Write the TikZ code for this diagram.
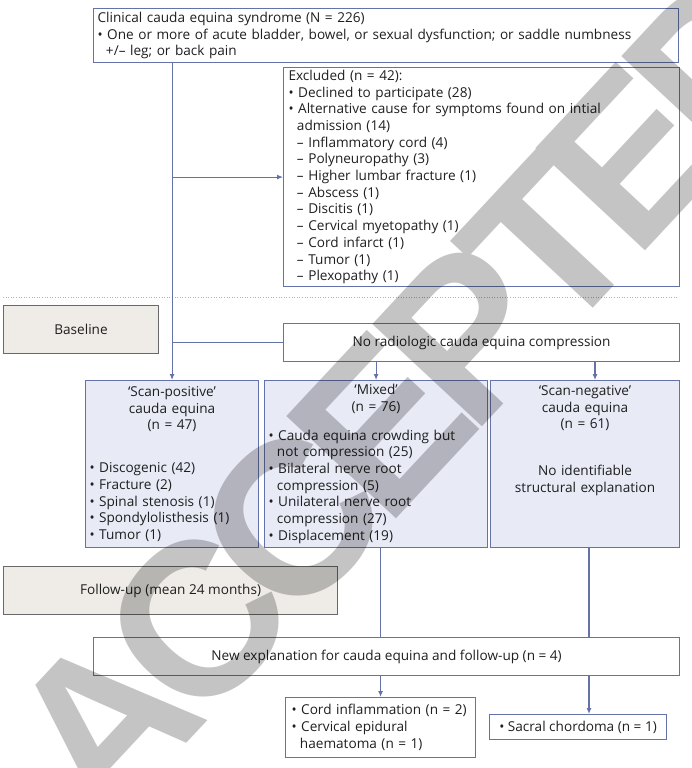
\documentclass[tikz,border=0pt]{standalone}
\usepackage{fontspec}
\setmainfont{Open Sans}
\newfontfamily\stampfont[LetterSpace=-9]{Liberation Sans}
\usetikzlibrary{arrows.meta, positioning}

\definecolor{boxline}{RGB}{100,114,170}
\definecolor{groupfill}{RGB}{232,234,246}
\definecolor{phasefill}{RGB}{239,236,232}
\definecolor{phaseline}{RGB}{105,105,105}
\newcommand{\hang}{\hspace*{0.62em}}

\begin{document}
\begin{tikzpicture}[
    x=1pt, y=-1pt,
    every node/.style={font=\fontsize{13.6}{16.7}\selectfont, text=black!88},
    base/.style={draw=boxline, line width=1.1pt, inner xsep=4pt, inner ysep=0pt, anchor=north west},
    textbox/.style={base, align=left},
    centerbox/.style={base, align=center},
    groupbox/.style={base, fill=groupfill, align=left},
    phase/.style={base, draw=phaseline, fill=phasefill, align=center},
    arrow/.style={-{Latex[length=6pt, width=5pt]}, line width=1.1pt, draw=boxline},
    link/.style={line width=1.1pt, draw=boxline},
    separator/.style={line width=1pt, draw=black!30, dash pattern=on 1pt off 1.6pt},
    stamp/.style={font=\stampfont\bfseries\fontsize{218}{218}\selectfont, text=black, rotate=47}
]
\useasboundingbox (0,0) rectangle (691,768);

\node[textbox, minimum width=585pt, minimum height=54pt, text width=577pt] (CES) at (93,8)
    {Clinical cauda equina syndrome (N = 226)\\
     • One or more of acute bladder, bowel, or sexual dysfunction; or saddle numbness\\
     \hang+/– leg; or back pain};
\node[textbox, minimum width=396pt, minimum height=219pt, text width=386pt, inner xsep=5pt] (Excl) at (283,67)
    {Excluded (n = 42):\\
     • Declined to participate (28)\\
     • Alternative cause for symptoms found on intial\\
     \hang admission (14)\\
     \hang – Inflammatory cord (4)\\
     \hang – Polyneuropathy (3)\\
     \hang – Higher lumbar fracture (1)\\
     \hang – Abscess (1)\\
     \hang – Discitis (1)\\
     \hang – Cervical myetopathy (1)\\
     \hang – Cord infarct (1)\\
     \hang – Tumor (1)\\
     \hang – Plexopathy (1)};

\coordinate (SepL) at (3,297);
\coordinate (SepR) at (678,297);
\draw[separator] (SepL) -- (SepR);

\node[phase, minimum width=155pt, minimum height=48pt] (Base) at (3,305) {Baseline};
\node[centerbox, minimum width=396pt, minimum height=38pt] (NoRad) at (283,323)
    {No radiologic cauda equina compression};

\node[groupbox, minimum width=173pt, minimum height=167pt, text width=165pt] (ScanPos) at (85,380)
    {{\centering ‘Scan-positive’\\ cauda equina\\ (n = 47)\par}\vspace{26pt}
     • Discogenic (42)\\
     • Fracture (2)\\
     • Spinal stenosis (1)\\
     • Spondylolisthesis (1)\\
     • Tumor (1)};
\node[groupbox, minimum width=223pt, minimum height=167pt, text width=215pt] (Mixed) at (264,380)
    {{\centering ‘Mixed’\\ (n = 76)\par}\vspace{12pt}
     • Cauda equina crowding but\\
     \hang not compression (25)\\
     • Bilateral nerve root\\
     \hang compression (5)\\
     • Unilateral nerve root\\
     \hang compression (27)\\
     • Displacement (19)};
\node[groupbox, align=center, minimum width=189pt, minimum height=167pt, text width=181pt] (ScanNeg) at (490,380)
    {‘Scan-negative’\\ cauda equina\\ (n = 61)\par\vspace{30pt}
     No identifiable\\ structural explanation\par\vspace*{47pt}};

\node[phase, minimum width=334pt, minimum height=48pt] (Follow) at (3,566) {Follow-up (mean 24 months)};
\node[centerbox, minimum width=586pt, minimum height=38pt] (NewExp) at (93,637)
    {New explanation for cauda equina and follow-up (n = 4)};

\node[textbox, minimum width=190pt, minimum height=60pt, text width=178pt, inner xsep=6pt] (Cord) at (285,697)
    {• Cord inflammation (n = 2)\\
     • Cervical epidural\\
     \hang haematoma (n = 1)};
\node[centerbox, minimum width=177pt, minimum height=25pt] (Sacral) at (489,714)
    {• Sacral chordoma (n = 1)};

\coordinate (NegIn) at (595,0);
\coordinate (NegOut) at (589,0);

\draw[arrow] (ScanPos.north |- CES.south) -- (ScanPos.north);
\draw[arrow] (Excl.west -| ScanPos.north) -- (Excl.west);
\draw[link] (NoRad.west -| ScanPos.north) -- (NoRad.west);
\draw[arrow] (NoRad.south -| Mixed.north) -- (Mixed.north);
\draw[arrow] (NoRad.south -| NegIn) -- (ScanNeg.north -| NegIn);
\draw[link] (Mixed.south -| Cord.north) -- (NewExp.north -| Cord.north);
\draw[link] (ScanNeg.south -| NegOut) -- (NewExp.north -| NegOut);
\draw[arrow] (NewExp.south -| Cord.north) -- (Cord.north);
\draw[arrow] (NewExp.south -| NegOut) -- (Sacral.north -| NegOut);

\begin{scope}[transparency group, opacity=0.23]
    \node[stamp] (Stamp) at (412,392) {ACCEPTED};
\end{scope}

\end{tikzpicture}
\end{document}
